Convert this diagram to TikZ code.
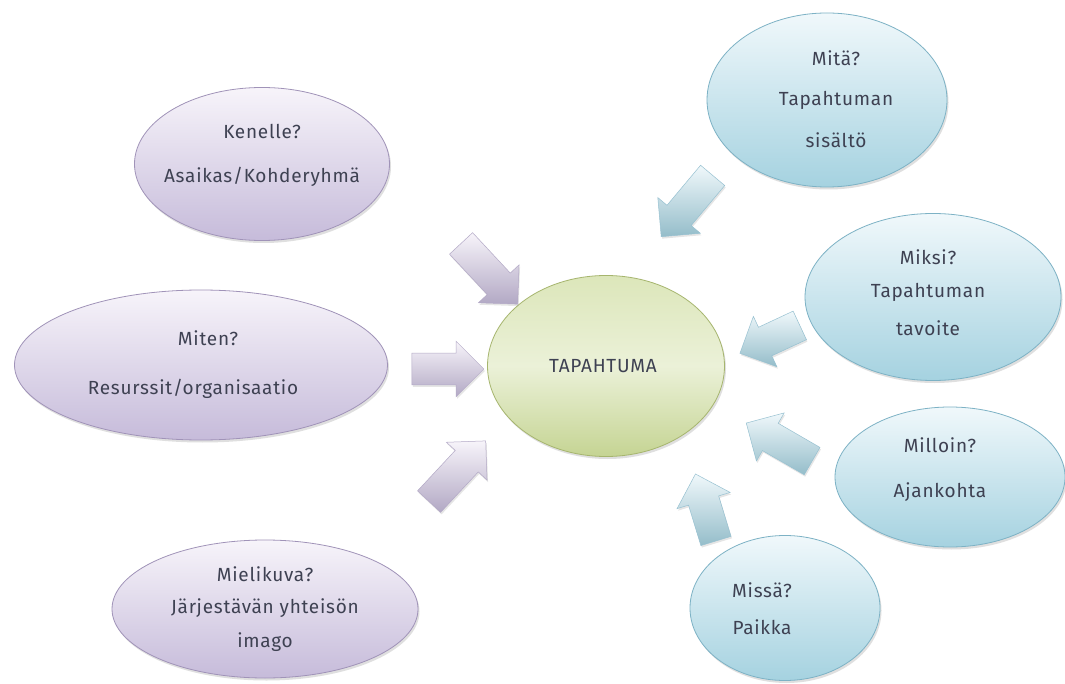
\documentclass[tikz,border=0pt]{standalone}
\usepackage{fontspec}
\setmainfont{Fira Sans}[LetterSpace=4]
\usetikzlibrary{shapes.arrows,shapes.geometric,shadows}
\definecolor{txt}{HTML}{3E4152}
\definecolor{purTop}{HTML}{F7F4FA}
\definecolor{purBot}{HTML}{C6BBDA}
\definecolor{purLine}{HTML}{A093B8}
\definecolor{bluTop}{HTML}{F0F8FB}
\definecolor{bluBot}{HTML}{A5D2E0}
\definecolor{bluLine}{HTML}{7DB2C5}
\definecolor{grnTop}{HTML}{DCE6BA}
\definecolor{grnMid}{HTML}{EBF1D8}
\definecolor{grnBot}{HTML}{C5D493}
\definecolor{grnLine}{HTML}{A6B56E}
\tikzset{
  x=1pt,y=-1pt,
  bub/.style={ellipse,draw,line width=0.8pt,inner sep=0pt,
    drop shadow={opacity=0.25,shadow xshift=1.5pt,shadow yshift=-2.5pt}},
  purbub/.style={bub,draw=purLine,top color=purTop,bottom color=purBot},
  blubub/.style={bub,draw=bluLine,top color=bluTop,bottom color=bluBot},
  grnbub/.style={bub,draw=grnLine,top color=grnTop,bottom color=grnBot,middle color=grnMid},
  lbl/.style={font=\fontsize{19}{21}\selectfont,text=txt,inner sep=0pt,anchor=center},
  blk/.style={single arrow,inner sep=0pt,
    single arrow head extend=12pt,single arrow tip angle=90,line width=0.5pt,
    drop shadow={opacity=0.2,shadow xshift=1pt,shadow yshift=-2pt}},
  purarr/.style={blk,draw=purLine!80,top color=purTop,bottom color=purBot!90!black},
  bluarr/.style={blk,draw=bluLine!80,top color=bluTop,bottom color=bluBot!90!black},
}
\newcommand{\shaft}{\rule{0pt}{31pt}}
\begin{document}
\begin{tikzpicture}
\useasboundingbox (0,0) rectangle (1065,684);
\fill[white] (0,0) rectangle (1065,684);
% bubbles
\node[purbub,minimum width=255pt,minimum height=153pt] (ken) at (262,164) {};
\node[purbub,minimum width=373pt,minimum height=150pt] (mit) at (201,365) {};
\node[purbub,minimum width=306pt,minimum height=138pt] (mie) at (265,609) {};
\node[grnbub,minimum width=237pt,minimum height=181pt] (tap) at (606,366) {};
\node[blubub,minimum width=240pt,minimum height=174pt] (mita) at (827,100) {};
\node[blubub,minimum width=256pt,minimum height=167pt] (miks) at (933,297) {};
\node[blubub,minimum width=230pt,minimum height=140pt] (mill) at (950,477) {};
\node[blubub,minimum width=190pt,minimum height=145pt] (miss) at (785,608) {};
% texts
\node[lbl] (kenA) at (262,131) {Kenelle?};
\node[lbl] (kenB) at (262,177) {Asaikas/Kohderyhmä};
\node[lbl] (mitA) at (208,338) {Miten?};
\node[lbl] (mitB) at (193,389) {Resurssit/organisaatio};
\node[lbl] (mieA) at (265,574) {Mielikuva?};
\node[lbl] (mieB) at (265,608) {Järjestävän yhteisön};
\node[lbl] (mieC) at (265,642) {imago};
\node[lbl] (tapA) at (603,366) {TAPAHTUMA};
\node[lbl] (mitaA) at (836,58) {Mitä?};
\node[lbl] (mitaB) at (836,100) {Tapahtuman};
\node[lbl] (mitaC) at (836,140) {sisältö};
\node[lbl] (miksA) at (928,257) {Miksi?};
\node[lbl] (miksB) at (928,292) {Tapahtuman};
\node[lbl] (miksC) at (928,328) {tavoite};
\node[lbl] (millA) at (940,445) {Milloin?};
\node[lbl] (millB) at (940,492) {Ajankohta};
\node[lbl] (missA) at (762,590) {Missä?};
\node[lbl] (missB) at (762,627) {Paikka};
% block arrows
\node[purarr,minimum height=83pt,rotate=-47] (a1) at (484,268) {\shaft};
\node[purarr,minimum height=72pt,rotate=0] (a2) at (440,369) {\shaft};
\node[purarr,minimum height=83pt,rotate=47] (a3) at (452,477) {\shaft};
\node[bluarr,minimum height=80pt,rotate=-130] (b1) at (692,200) {\shaft};
\node[bluarr,minimum height=66pt,rotate=-155] (b2) at (777,336) {\shaft};
\node[bluarr,minimum height=76pt,rotate=150] (b3) at (786,446) {\shaft};
\node[bluarr,minimum height=70pt,rotate=107] (b4) at (708,515) {\shaft};
\end{tikzpicture}
\end{document}
